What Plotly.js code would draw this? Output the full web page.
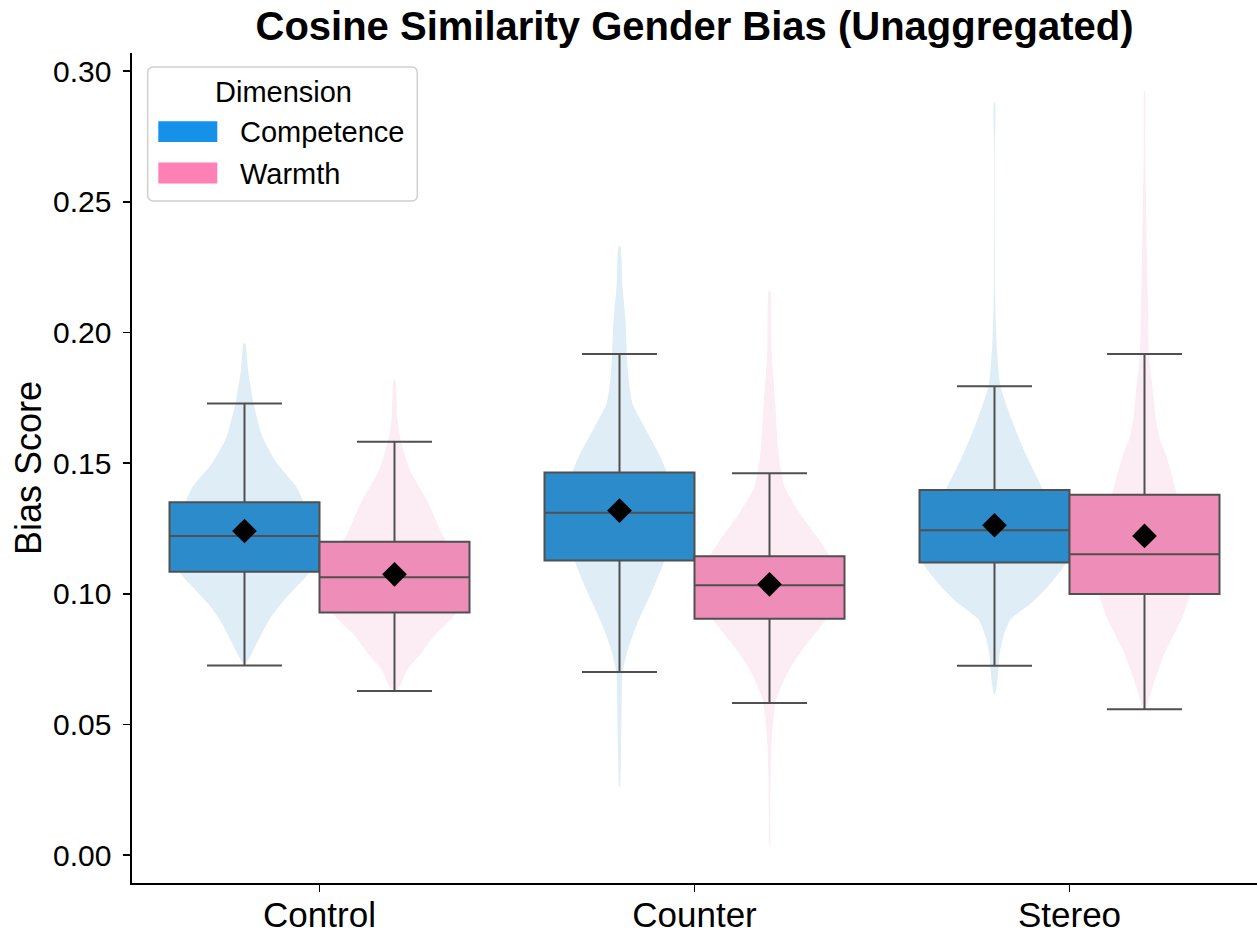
<!DOCTYPE html>
<html>
<head>
<meta charset="utf-8">
<script src="https://cdn.plot.ly/plotly-3.0.1.min.js"></script>
<style>
  html, body { margin: 0; padding: 0; background: #ffffff; }
  #chart { width: 1258px; height: 933px; }
</style>
</head>
<body>
<div id="chart"></div>
<script>
// ---------- data ----------
const categories = ['Control', 'Counter', 'Stereo'];
const dimensions = ['Competence', 'Warmth'];

// box statistics
const compQ1     = [0.1084, 0.1127, 0.1119];
const compMedian = [0.1221, 0.1310, 0.1243];
const compQ3     = [0.1350, 0.1464, 0.1397];
const compLow    = [0.0725, 0.0700, 0.0724];
const compHigh   = [0.1728, 0.1917, 0.1794];
const compMean   = [0.1240, 0.1318, 0.1262];

const warmQ1     = [0.0928, 0.0904, 0.0999];
const warmMedian = [0.1063, 0.1032, 0.1151];
const warmQ3     = [0.1199, 0.1143, 0.1379];
const warmLow    = [0.0628, 0.0582, 0.0558];
const warmHigh   = [0.1581, 0.1461, 0.1917];
const warmMean   = [0.1074, 0.1036, 0.1221];

// violin density profiles (score level, relative density 0..1)
const controlCompY = [0.0728, 0.0773, 0.0836, 0.0900, 0.0963, 0.1026, 0.1084, 0.1150, 0.1220, 0.1300, 0.1350, 0.1410, 0.1500, 0.1600, 0.1730, 0.1850, 0.1958];
const controlCompD = [0.01, 0.10, 0.21, 0.33, 0.49, 0.69, 0.87, 0.93, 0.93, 0.88, 0.79, 0.69, 0.43, 0.24, 0.12, 0.05, 0.01];
const controlWarmY = [0.0628, 0.0645, 0.0709, 0.0773, 0.0836, 0.0928, 0.1000, 0.1070, 0.1140, 0.1200, 0.1230, 0.1347, 0.1470, 0.1580, 0.1665, 0.1817];
const controlWarmD = [0.01, 0.07, 0.17, 0.36, 0.52, 0.83, 0.88, 0.87, 0.77, 0.69, 0.63, 0.45, 0.21, 0.09, 0.04, 0.01];
const counterCompY = [0.0262, 0.0400, 0.0568, 0.0697, 0.0785, 0.0888, 0.1014, 0.1127, 0.1220, 0.1310, 0.1400, 0.1464, 0.1538, 0.1639, 0.1730, 0.1856, 0.2047, 0.2174, 0.2330];
const counterCompD = [0.01, 0.02, 0.03, 0.04, 0.11, 0.24, 0.44, 0.60, 0.69, 0.72, 0.67, 0.63, 0.52, 0.33, 0.17, 0.11, 0.08, 0.04, 0.01];
const counterWarmY = [0.0039, 0.0186, 0.0441, 0.0594, 0.0697, 0.0798, 0.0904, 0.0980, 0.1040, 0.1100, 0.1143, 0.1218, 0.1309, 0.1410, 0.1538, 0.1715, 0.1920, 0.2158];
const counterWarmD = [0.01, 0.01, 0.03, 0.09, 0.24, 0.47, 0.76, 0.85, 0.87, 0.84, 0.80, 0.63, 0.40, 0.20, 0.12, 0.08, 0.03, 0.01];
const stereoCompY  = [0.0614, 0.0670, 0.0772, 0.0836, 0.0900, 0.0964, 0.1027, 0.1119, 0.1180, 0.1240, 0.1320, 0.1397, 0.1538, 0.1665, 0.1794, 0.1945, 0.2136, 0.2400, 0.2700, 0.2880];
const stereoCompD  = [0.01, 0.04, 0.07, 0.12, 0.21, 0.49, 0.71, 0.96, 0.99, 0.93, 0.80, 0.65, 0.41, 0.23, 0.08, 0.03, 0.01, 0.005, 0.005, 0.007];
const stereoWarmY  = [0.0558, 0.0568, 0.0645, 0.0772, 0.0900, 0.0999, 0.1070, 0.1150, 0.1250, 0.1384, 0.1537, 0.1588, 0.1665, 0.1754, 0.1917, 0.2072, 0.2327, 0.2709, 0.2924];
const stereoWarmD  = [0.01, 0.03, 0.11, 0.27, 0.49, 0.61, 0.65, 0.64, 0.56, 0.43, 0.28, 0.21, 0.15, 0.12, 0.06, 0.05, 0.03, 0.01, 0.004];

const yTicks = [0.00, 0.05, 0.10, 0.15, 0.20, 0.25, 0.30];

// ---------- styling ----------
const FONT = 'Liberation Sans, Arial, Helvetica, sans-serif';
const compBox = '#2b8bcb', warmBox = '#ee8db8';
const compViolin = 'rgb(223,237,247)', warmViolin = 'rgb(252,236,244)';
const compLegend = '#1591ea', warmLegend = '#ff80b5';
const edge = '#505050';
const groupOffset = 0.2;
const boxWidth = 0.4;
const violinHalf = 0.2;
const xRange = [-0.5, 2.5];
const yRange = [-0.0107, 0.3069];

function violinTrace(catIndex, sign, ys, ds, color) {
  const c = catIndex + sign * groupOffset;
  const xs = [], yy = [];
  for (let i = 0; i < ys.length; i++) { xs.push(c + ds[i] * violinHalf); yy.push(ys[i]); }
  for (let i = ys.length - 1; i >= 0; i--) { xs.push(c - ds[i] * violinHalf); yy.push(ys[i]); }
  return {
    type: 'scatter', mode: 'lines', x: xs, y: yy, xaxis: 'x', yaxis: 'y',
    fill: 'toself', fillcolor: color,
    line: {width: 0, color: color, shape: 'spline', smoothing: 0.6},
    hoverinfo: 'skip', showlegend: false
  };
}

const idx = categories.map((_, i) => i);
const compX = idx.map(i => i - groupOffset);
const warmX = idx.map(i => i + groupOffset);

const traces = [
  violinTrace(0, -1, controlCompY, controlCompD, compViolin),
  violinTrace(0,  1, controlWarmY, controlWarmD, warmViolin),
  violinTrace(1, -1, counterCompY, counterCompD, compViolin),
  violinTrace(1,  1, counterWarmY, counterWarmD, warmViolin),
  violinTrace(2, -1, stereoCompY,  stereoCompD,  compViolin),
  violinTrace(2,  1, stereoWarmY,  stereoWarmD,  warmViolin),
  {
    type: 'box', name: dimensions[0], x: compX, xaxis: 'x2', yaxis: 'y2',
    q1: compQ1, median: compMedian, q3: compQ3,
    lowerfence: compLow, upperfence: compHigh,
    width: boxWidth, whiskerwidth: 0.5, boxpoints: false,
    fillcolor: compBox, line: {color: edge, width: 2}, showlegend: false
  },
  {
    type: 'box', name: dimensions[1], x: warmX, xaxis: 'x2', yaxis: 'y2',
    q1: warmQ1, median: warmMedian, q3: warmQ3,
    lowerfence: warmLow, upperfence: warmHigh,
    width: boxWidth, whiskerwidth: 0.5, boxpoints: false,
    fillcolor: warmBox, line: {color: edge, width: 2}, showlegend: false
  },
  {
    type: 'scatter', mode: 'markers', x: compX, y: compMean, xaxis: 'x2', yaxis: 'y2',
    marker: {symbol: 'diamond', size: 19, color: '#000000'},
    showlegend: false, hoverinfo: 'y'
  },
  {
    type: 'scatter', mode: 'markers', x: warmX, y: warmMean, xaxis: 'x2', yaxis: 'y2',
    marker: {symbol: 'diamond', size: 19, color: '#000000'},
    showlegend: false, hoverinfo: 'y'
  }
];

// manual legend (pixel offsets from the plot's top-left corner)
function pxRect(x0, y0, x1, y1, fill) {
  return {
    type: 'rect', xref: 'paper', yref: 'paper', xsizemode: 'pixel', ysizemode: 'pixel',
    xanchor: 0, yanchor: 1, x0: x0, x1: x1, y0: -y0, y1: -y1,
    fillcolor: fill, line: {width: 0}, layer: 'above'
  };
}
function roundedFrame(x0, y0, x1, y1, r) {
  const Y0 = -y0, Y1 = -y1;
  const p = `M${x0 + r},${Y0} L${x1 - r},${Y0} Q${x1},${Y0} ${x1},${Y0 - r} ` +
            `L${x1},${Y1 + r} Q${x1},${Y1} ${x1 - r},${Y1} L${x0 + r},${Y1} ` +
            `Q${x0},${Y1} ${x0},${Y1 + r} L${x0},${Y0 - r} Q${x0},${Y0} ${x0 + r},${Y0} Z`;
  return {
    type: 'path', xref: 'paper', yref: 'paper', xsizemode: 'pixel', ysizemode: 'pixel',
    xanchor: 0, yanchor: 1, path: p, fillcolor: 'rgba(255,255,255,0.8)',
    line: {color: '#d0d0d0', width: 1.5}, layer: 'above'
  };
}
function legendText(text, xs, ys, anchor) {
  return {
    xref: 'paper', yref: 'paper', x: 0, y: 1, xshift: xs, yshift: -ys,
    xanchor: anchor, yanchor: 'middle', showarrow: false, text: text,
    font: {family: FONT, size: 29, color: '#000000'}
  };
}

const layout = {
  width: 1258, height: 933,
  margin: {l: 132, r: 1, t: 53, b: 50, pad: 0},
  paper_bgcolor: '#ffffff', plot_bgcolor: '#ffffff',
  showlegend: false,
  title: {
    text: '<b>Cosine Similarity Gender Bias (Unaggregated)</b>',
    font: {family: FONT, size: 40, color: '#000000'},
    x: 0.5, xanchor: 'center', xref: 'paper',
    y: 0.972, yanchor: 'middle', yref: 'container'
  },
  xaxis: {
    range: xRange, tickvals: idx, ticktext: categories,
    showgrid: false, zeroline: false, showline: true,
    linecolor: '#000000', linewidth: 1.6,
    ticks: 'outside', ticklen: 7, tickwidth: 1.6, tickcolor: '#000000',
    tickfont: {family: FONT, size: 35, color: '#000000'},
    ticklabelstandoff: -7, fixedrange: true
  },
  yaxis: {
    range: yRange, tickvals: yTicks, tickformat: '.2f',
    showgrid: false, zeroline: false, showline: true,
    linecolor: '#000000', linewidth: 1.6,
    ticks: 'outside', ticklen: 7, tickwidth: 1.6, tickcolor: '#000000',
    tickfont: {family: FONT, size: 30, color: '#000000'},
    ticklabelstandoff: 6,
    title: {text: 'Bias Score', font: {family: FONT, size: 36, color: '#000000'}, standoff: 0},
    automargin: false, fixedrange: true
  },
  xaxis2: {
    range: xRange, overlaying: 'x', visible: false, fixedrange: true
  },
  yaxis2: {
    range: yRange, overlaying: 'y', visible: false, fixedrange: true
  },
  shapes: [
    roundedFrame(15.7, 14, 285.3, 148, 6),
    pxRect(26.3, 68.3, 85.3, 89, compLegend),
    pxRect(26.3, 109.6, 85.3, 130.6, warmLegend)
  ],
  annotations: [
    legendText('Dimension', 151, 38.5, 'center'),
    legendText(dimensions[0], 106, 78.6, 'left'),
    legendText(dimensions[1], 106, 120.6, 'left')
  ]
};

Plotly.newPlot('chart', traces, layout, {staticPlot: true, displayModeBar: false});
</script>
</body>
</html>
